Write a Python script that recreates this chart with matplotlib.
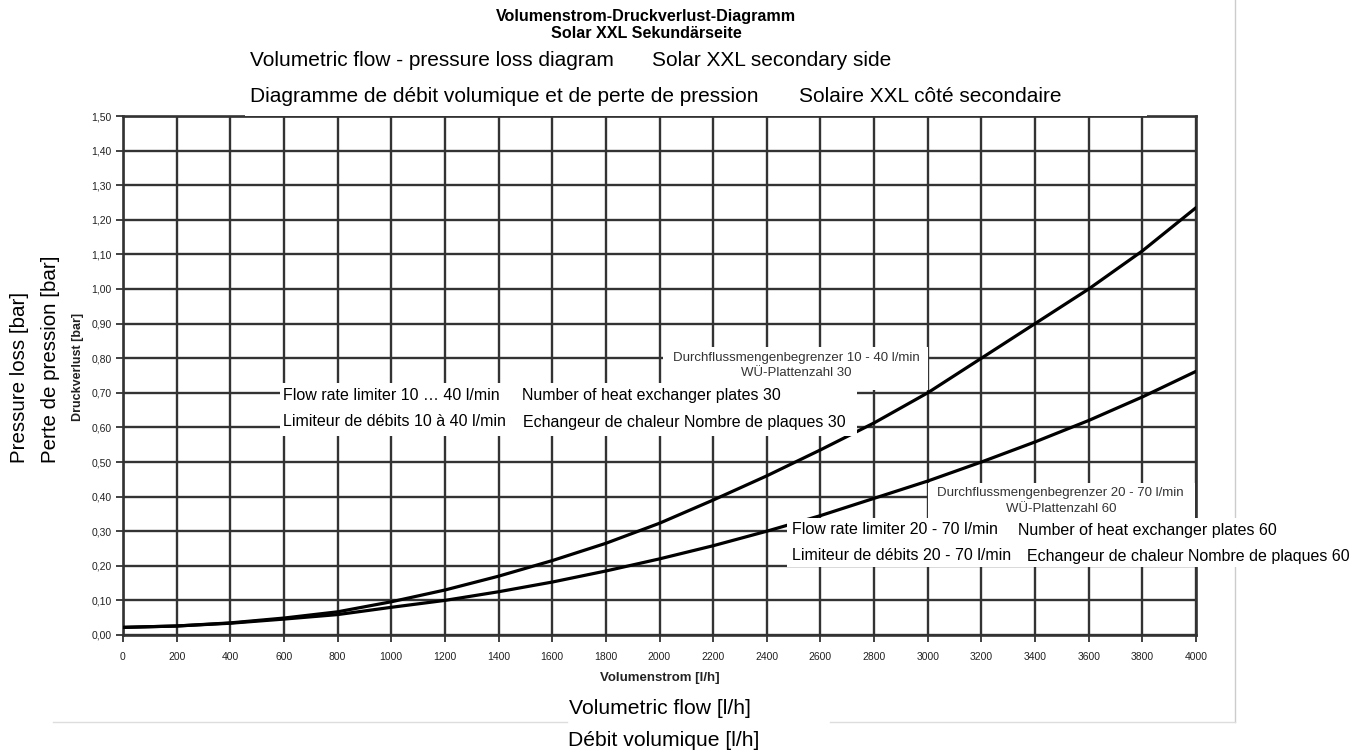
import numpy as np
import matplotlib
matplotlib.use("Agg")
import matplotlib.pyplot as plt
from matplotlib.patches import Rectangle

plt.rcParams['font.family'] = ['Liberation Sans', 'DejaVu Sans']

W, H = 1366, 752

# data (flow in l/h, pressure loss in bar)
flow = [0, 200, 400, 600, 800, 1000, 1200, 1400, 1600, 1800, 2000,
        2200, 2400, 2600, 2800, 3000, 3200, 3400, 3600, 3800, 4000]
dp_30 = [0.022, 0.026, 0.035, 0.049, 0.067, 0.096, 0.130, 0.170, 0.215, 0.265, 0.323,
         0.390, 0.460, 0.535, 0.613, 0.700, 0.800, 0.900, 1.000, 1.110, 1.235]
dp_60 = [0.022, 0.026, 0.034, 0.046, 0.059, 0.080, 0.100, 0.125, 0.153, 0.185, 0.220,
         0.258, 0.300, 0.345, 0.395, 0.445, 0.500, 0.558, 0.620, 0.688, 0.762]
xticks = list(range(0, 4001, 200))
yticks = [i / 10 for i in range(16)]
ylabels = [f'{v:.2f}'.replace('.', ',') for v in yticks]


def fx(px):
    return px / W


def fy(py):
    return 1 - py / H


def white_box(x0, y0, x1, y1):
    # white paste-over boxes of the translated labels (pixel coords)
    fig.add_artist(Rectangle((fx(x0), fy(y1)), fx(x1) - fx(x0), fy(y0) - fy(y1),
                             transform=fig.transFigure, facecolor='white',
                             edgecolor='none', zorder=5))


def label(px, py, s, size, **kw):
    kw.setdefault('ha', 'left')
    kw.setdefault('va', 'center')
    fig.text(fx(px), fy(py), s, fontsize=size, zorder=6, **kw)


fig = plt.figure(figsize=(W / 100, H / 100), dpi=100)
fig.patch.set_facecolor('white')
ax = fig.add_axes([fx(123), fy(635), fx(1196) - fx(123), fy(116) - fy(635)])

GRID = '#333333'
ax.plot(flow, dp_30, color='black', lw=2.3, zorder=4, solid_capstyle='round')
ax.plot(flow, dp_60, color='black', lw=2.3, zorder=4, solid_capstyle='round')
ax.set_xlim(0, 4000)
ax.set_ylim(0, 1.5)
ax.set_xticks(xticks)
ax.set_xticklabels([str(v) for v in xticks], fontsize=7.5)
ax.set_yticks(yticks)
ax.set_yticklabels(ylabels, fontsize=7.5)
ax.grid(True, color=GRID, lw=1.7)
ax.set_axisbelow(True)
for sp in ax.spines.values():
    sp.set_color(GRID)
    sp.set_linewidth(1.9)
ax.tick_params(length=5, width=1.3, color=GRID, labelcolor='#222')
ax.tick_params(axis='x', pad=7)
ax.tick_params(axis='y', pad=3)

# thin grey frame lines of the page
fig.add_artist(plt.Line2D([fx(1235), fx(1235)], [fy(0), fy(722)], color='#cccccc', lw=1))
fig.add_artist(plt.Line2D([fx(53), fx(567)], [fy(722), fy(722)], color='#dddddd', lw=1))
fig.add_artist(plt.Line2D([fx(830), fx(1235)], [fy(722), fy(722)], color='#dddddd', lw=1))

# paste-over boxes
white_box(245, 80, 1147, 116)     # French title
white_box(663, 347, 928, 390)     # German label 10-40
white_box(280, 383, 857, 436)     # EN/FR label 10-40
white_box(928, 483, 1195, 518)    # German label 20-70
white_box(787, 518, 1355, 567)    # EN/FR label 20-70

# titles
label(646, 17, 'Volumenstrom-Druckverlust-Diagramm', 11.6, ha='center', fontweight='bold')
label(646, 33, 'Solar XXL Sekundärseite', 11.6, ha='center', fontweight='bold')
label(250, 60, 'Volumetric flow - pressure loss diagram', 15)
label(652, 60, 'Solar XXL secondary side', 15)
label(250, 96, 'Diagramme de débit volumique et de perte de pression', 15)
label(799, 96, 'Solaire XXL côté secondaire', 15)

# axis labels
label(20, 463, 'Pressure loss [bar]', 14.8, rotation=90, ha='center', va='bottom')
label(51, 463, 'Perte de pression [bar]', 14.8, rotation=90, ha='center', va='bottom')
label(78, 367, 'Druckverlust [bar]', 9, fontweight='bold', rotation=90, ha='center',
      color='#222')
label(660, 678, 'Volumenstrom [l/h]', 9.5, fontweight='bold', ha='center', color='#222')
label(660, 708, 'Volumetric flow [l/h]', 15.2, ha='center')
label(664, 740, 'Débit volumique [l/h]', 15.2, ha='center')

# curve annotations
label(796, 358, 'Durchflussmengenbegrenzer 10 - 40 l/min', 9.5, ha='center', color='#333')
label(796, 373, 'WÜ-Plattenzahl 30', 9.5, ha='center', color='#333')
label(283, 396, 'Flow rate limiter 10 … 40 l/min', 11.5)
label(522, 396, 'Number of heat exchanger plates 30', 11.5)
label(283, 422, 'Limiteur de débits 10 à 40 l/min', 11.5)
label(523, 422, 'Echangeur de chaleur Nombre de plaques 30', 11.5)
label(1060, 493, 'Durchflussmengenbegrenzer 20 - 70 l/min', 9.5, ha='center', color='#333')
label(1061, 509, 'WÜ-Plattenzahl 60', 9.5, ha='center', color='#333')
label(792, 530, 'Flow rate limiter 20 - 70 l/min', 11.5)
label(1018, 530, 'Number of heat exchanger plates 60', 11.5)
label(792, 556, 'Limiteur de débits 20 - 70 l/min', 11.5)
label(1027, 556, 'Echangeur de chaleur Nombre de plaques 60', 11.5)

fig.savefig('out.png', dpi=100, facecolor='white')
